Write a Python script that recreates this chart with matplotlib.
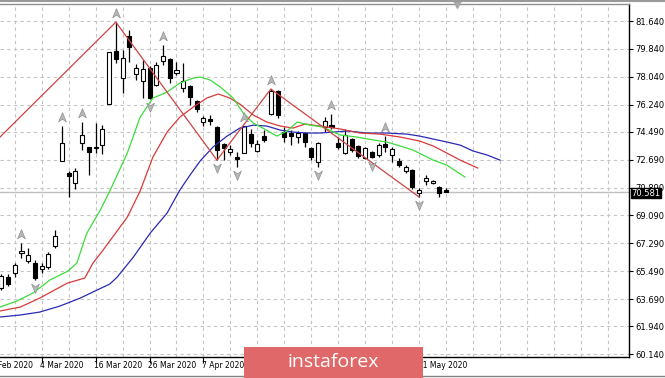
import numpy as np
import matplotlib
matplotlib.use("Agg")
import matplotlib.pyplot as plt
from matplotlib.path import Path
from matplotlib.patches import Rectangle
from matplotlib.lines import Line2D
from matplotlib.transforms import blended_transform_factory

# ---- data (bar index 0 = 4 Mar 2020) ----
bar_idx = list(range(-6, 61))
opens = [64.40, 65.11, 65.37, 66.66, 66.14, 66.01, 65.63, 65.76, 67.11, 72.60,
         71.83, 71.18, 73.76, 73.50, 73.44, 73.63, 76.28, 79.70, 77.96, 80.67,
         78.22, 77.77, 78.60, 77.51, 79.06, 79.19, 78.28, 77.31, 77.44, 76.47,
         75.12, 75.31, 74.80, 73.70, 73.18, 72.86, 73.12, 74.34, 73.25, 74.21,
         75.63, 77.12, 74.47, 74.41, 74.15, 74.41, 73.44, 72.54, 74.80, 74.92,
         73.76, 73.12, 74.02, 73.57, 72.79, 73.18, 72.99, 73.70, 72.99, 72.60,
         71.95, 72.02, 70.53, 71.31, 71.18, 70.92, 70.73]
highs = [65.30, 65.30, 66.01, 67.31, 66.98, 66.21, 66.01, 66.72, 68.15, 74.86,
         71.95, 72.15, 75.12, 73.50, 75.05, 74.92, 79.64, 81.57, 79.77, 81.06,
         78.86, 79.12, 78.73, 78.99, 80.09, 79.25, 78.99, 78.93, 77.51, 76.54,
         75.51, 75.57, 74.86, 73.76, 73.63, 73.18, 74.86, 74.67, 73.96, 74.60,
         77.25, 77.18, 74.80, 74.60, 74.54, 74.47, 73.50, 73.83, 75.44, 75.63,
         74.15, 74.67, 74.08, 73.63, 73.50, 73.25, 73.76, 74.21, 73.50, 72.79,
         72.34, 72.08, 70.86, 71.70, 71.37, 70.99, 70.86]
lows = [64.27, 64.53, 65.11, 66.34, 66.01, 64.92, 65.37, 65.63, 66.98, 72.60,
        70.28, 70.79, 73.31, 71.70, 73.12, 73.05, 76.28, 78.93, 76.99, 78.99,
        77.83, 76.67, 76.60, 77.44, 78.80, 77.64, 78.15, 77.05, 76.22, 75.76,
        74.86, 74.92, 72.66, 72.66, 72.99, 72.21, 73.12, 73.50, 73.18, 73.83,
        75.57, 75.38, 73.83, 73.63, 73.76, 73.50, 72.66, 72.21, 74.47, 74.67,
        73.37, 73.05, 73.18, 72.79, 72.73, 72.79, 72.86, 73.18, 72.54, 72.21,
        71.83, 70.79, 70.28, 71.05, 71.12, 70.28, 70.58]
closes = [65.18, 64.66, 65.89, 66.79, 66.53, 65.05, 65.82, 66.60, 67.76, 73.76,
          71.63, 71.95, 74.28, 73.18, 73.50, 74.67, 79.64, 79.19, 79.25, 79.96,
          78.60, 78.54, 76.67, 78.80, 79.38, 77.96, 78.47, 77.77, 76.73, 75.96,
          75.38, 75.18, 73.31, 73.44, 73.37, 72.73, 74.86, 73.76, 73.70, 73.96,
          77.12, 75.57, 74.15, 74.21, 74.41, 73.83, 72.86, 73.76, 75.18, 74.80,
          73.50, 74.28, 73.31, 72.92, 73.44, 72.86, 73.63, 73.50, 73.37, 72.34,
          72.21, 70.92, 70.73, 71.50, 71.31, 70.53, 70.581]
last_price = 70.581

# alligator lines
lips_x = [-6.2, -3.7, -1.3, 1.2, 3.9, 5.2, 6.7, 8.7, 10.1, 12.7, 14.6, 16.5, 18.6,
          20.5, 22.5, 23.5, 25.0, 26.5, 28.4, 29.9, 31.4, 32.8, 34.9, 36.4, 37.9,
          39.8, 41.7, 44.3, 46.8, 49.2, 51.2, 53.2, 55.1, 58.1, 60.1, 62.8]
lips_y = [63.17, 63.56, 64.08, 64.92, 65.50, 66.01, 67.95, 69.44, 70.66, 73.12,
          75.44, 76.67, 77.05, 77.64, 77.96, 78.02, 77.83, 77.38, 76.67, 75.70,
          75.05, 74.73, 74.21, 74.54, 75.12, 74.92, 74.80, 74.28, 74.15, 73.96,
          73.83, 73.57, 73.31, 72.66, 72.34, 71.57]
teeth_x = [-6.2, -3.2, -0.3, 2.7, 3.8, 6.4, 7.6, 9.1, 10.1, 12.7, 14.6, 16.5, 18.6,
           20.5, 22.5, 24.5, 26.2, 27.9, 29.4, 31.4, 33.4, 35.4, 37.3, 39.1, 41.3,
           44.3, 47.2, 50.2, 53.2, 56.1, 58.1, 60.1, 62.1, 64.7]
teeth_y = [62.92, 63.17, 63.75, 64.46, 64.72, 65.05, 66.01, 66.85, 67.44, 68.98,
           70.66, 72.86, 74.47, 75.44, 76.09, 76.67, 76.93, 76.67, 76.28, 75.57,
           75.12, 74.86, 74.73, 74.99, 74.86, 74.67, 74.41, 74.34, 74.15, 73.89,
           73.57, 73.12, 72.66, 72.15]
jaw_x = [-6.2, -3.2, -0.3, 2.7, 5.7, 8.2, 10.1, 11.2, 13.6, 16.1, 18.6, 20.5, 22.0,
         23.5, 25.4, 27.5, 29.4, 31.4, 33.4, 35.4, 37.3, 39.4, 41.3, 43.2, 45.3,
         48.3, 51.2, 54.2, 56.1, 58.1, 60.1, 62.1, 64.0, 66.1, 68.0]
jaw_y = [62.53, 62.66, 62.85, 63.24, 63.75, 64.27, 64.66, 65.11, 66.40, 67.95,
         69.24, 70.73, 71.69, 72.60, 73.50, 74.21, 74.73, 74.92, 74.86, 74.60,
         74.47, 74.41, 74.41, 74.47, 74.54, 74.41, 74.41, 74.34, 74.21, 74.02,
         73.83, 73.63, 73.25, 72.99, 72.66]

# zigzag pivots
zz_x = [-26, 11, 26, 34, 56]
zz_y = [65.60, 81.57, 72.66, 77.25, 70.28]

# fractals
fractal_up = [-3, 3, 6, 11, 18, 30, 34, 43, 51]
fractal_down = [-1, 16, 26, 29, 41, 49, 56]

price_levels = [81.64, 79.84, 78.04, 76.24, 74.49, 72.69, 70.89,
                69.09, 67.29, 65.49, 63.69, 61.94, 60.14]
date_idx = [-8, 0, 8, 16, 24, 32, 40, 48, 56]
date_labels = ["21 Feb 2020", "4 Mar 2020", "16 Mar 2020", "26 Mar 2020",
               "7 Apr 2020", "17 Apr 2020", "29 Apr 2020", "11 May 2020",
               "21 May 2020"]

plt.rcParams['font.family'] = ['DejaVu Sans']

W, H = 665, 378
fig = plt.figure(figsize=(W / 100, H / 100), dpi=100)
fig.patch.set_facecolor('white')
ax = fig.add_axes([0, 21 / H, 629.3 / W, 353 / H])
ax.set_xlim(-6.19, 87.19)
ax.set_ylim(59.95, 82.74)

# grid
grid_kw = dict(color='#c4c4c4', lw=0.8, ls=(0, (3, 3)), zorder=0)
for g in np.arange(-4, 88, 4):
    ax.axvline(g, **grid_kw)
for lv in price_levels:
    ax.axhline(lv, **grid_kw)

# bid line
ax.axhline(last_price, color='#c0c0c0', lw=1.0, zorder=1)

# candles
x = np.array(bar_idx)
o = np.array(opens)
c = np.array(closes)
hi = np.array(highs)
lo = np.array(lows)
bull = c >= o
ax.vlines(x, lo, hi, color='black', lw=0.9, zorder=3)
bottom = np.minimum(o, c)
height = np.maximum(np.abs(c - o), 0.04)
ax.bar(x[bull], height[bull], bottom=bottom[bull], width=0.6,
       facecolor='white', edgecolor='black', lw=0.8, zorder=4)
ax.bar(x[~bull], height[~bull], bottom=bottom[~bull], width=0.6,
       facecolor='black', edgecolor='black', lw=0.8, zorder=4)

# alligator + zigzag
ax.plot(jaw_x, jaw_y, color='#2a2ab4', lw=0.9, zorder=5)
ax.plot(teeth_x, teeth_y, color='#d83a3a', lw=0.9, zorder=5)
ax.plot(lips_x, lips_y, color='#3cdc3c', lw=0.9, zorder=5)
ax.plot(zz_x, zz_y, color='#cc4444', lw=0.9, zorder=5)

# fractal arrows
up_arrow = Path([(0, 1), (0.8, -0.9), (0, -0.35), (-0.8, -0.9), (0, 1)],
                [Path.MOVETO, Path.LINETO, Path.LINETO, Path.LINETO, Path.CLOSEPOLY])
down_arrow = Path([(0, -1), (0.8, 0.9), (0, 0.35), (-0.8, 0.9), (0, -1)],
                  [Path.MOVETO, Path.LINETO, Path.LINETO, Path.LINETO, Path.CLOSEPOLY])
pos = {b: k for k, b in enumerate(bar_idx)}
ax.plot(fractal_up, [hi[pos[b]] + 0.58 for b in fractal_up], ls='none',
        marker=up_arrow, ms=7, mfc='#b8b8b8', mec='#909090', mew=0.5, zorder=6)
ax.plot(fractal_down, [lo[pos[b]] - 0.5 for b in fractal_down], ls='none',
        marker=down_arrow, ms=7, mfc='#b8b8b8', mec='#909090', mew=0.5, zorder=6)

# axes frame
ax.spines['left'].set_visible(False)
ax.spines['top'].set_color('#909090')
ax.spines['right'].set_color('black')
ax.spines['bottom'].set_color('black')
for s in ['top', 'right', 'bottom']:
    ax.spines[s].set_linewidth(1.0)

ax.yaxis.tick_right()
ax.set_yticks(price_levels)
ax.set_yticklabels(['%.3f' % v for v in price_levels])
ax.tick_params(axis='y', direction='out', length=3, width=0.8,
               labelsize=6, pad=1.5, colors='black')
ax.set_xticks([d for d in date_idx if d >= -6])
ax.set_xticklabels([])
ax.tick_params(axis='x', direction='out', length=4, width=0.8)

bt = blended_transform_factory(ax.transData, ax.transAxes)
for d, lab in zip(date_idx, date_labels):
    ax.text(d - 0.2, -0.012, lab, transform=bt, ha='left', va='top',
            fontsize=5.5, clip_on=False)

# current price label
rt = blended_transform_factory(ax.transAxes, ax.transData)
ax.text(1.003, last_price - 0.05, '%.3f' % last_price, transform=rt, ha='left',
        va='center', fontsize=6, color='white', zorder=10, clip_on=False,
        bbox=dict(boxstyle='square,pad=0.08', fc='black', ec='black'))

# chart shift marker
ax.plot([61.6], [1.0], transform=bt, marker='v', ms=6, color='#a8a8a8',
        clip_on=False, zorder=10)

# window decorations
fig.add_artist(Line2D([0, 1], [1 - 1 / H, 1 - 1 / H], transform=fig.transFigure,
                      color='#9a9a9a', lw=1.5))
fig.add_artist(Line2D([0, 1], [2 / H, 2 / H], transform=fig.transFigure,
                      color='#808080', lw=1.0))

# watermark
fig.patches.append(Rectangle((244 / W, 0), 179 / W, 31 / H, transform=fig.transFigure,
                             facecolor='#e06868', edgecolor='none', zorder=5))
fig.text(333 / W, 16 / H, 'instaforex', color='white', fontsize=14,
         family=['Open Sans', 'DejaVu Sans'], ha='center', va='center', zorder=6)

fig.savefig('out.png', dpi=100)
